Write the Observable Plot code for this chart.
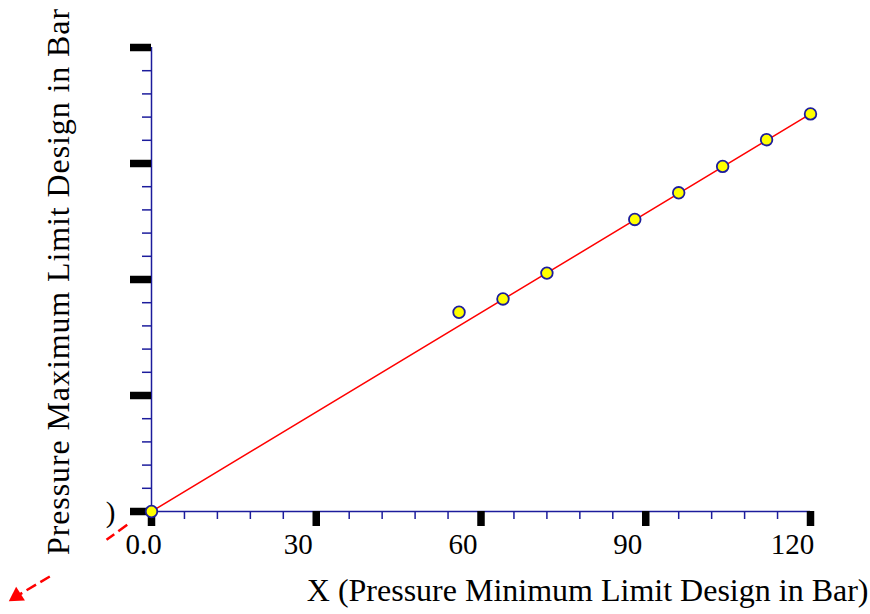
<!DOCTYPE html>
<html>
<head>
<meta charset="utf-8">
<script src="https://cdn.jsdelivr.net/npm/d3@7"></script>
<script src="https://cdn.jsdelivr.net/npm/@observablehq/plot@0.6"></script>
<style>
  html, body { margin: 0; padding: 0; background: #fff; }
  #chart svg { display: block; }
</style>
</head>
<body>
<div id="chart"></div>
<script>
// ---- data ----
const pointX = [0, 56, 64, 72, 88, 96, 104, 112, 120];
const pointY = [0, 68.7, 73.3, 82.2, 100.7, 109.9, 119.0, 128.2, 137.1];
const fitX = [0, 120];
const fitY = [0, 137.1];

const xMajorTicks = [0, 30, 60, 90, 120];
const xTickLabels = ["0.0", "30", "60", "90", "120"];
const xMinorTicks = [0, 6, 12, 18, 24, 30, 36, 42, 48, 54, 60, 66, 72, 78, 84, 90, 96, 102, 108, 114, 120];
const yMajorTicks = [0, 40, 80, 120, 160];
const yMinorTicks = [0, 8, 16, 24, 32, 40, 48, 56, 64, 72, 80, 88, 96, 104, 112, 120, 128, 136, 144, 152, 160];
const yTickLabels = [")"];

const xTitle = "X (Pressure Minimum Limit Design in Bar)";
const yTitle = "Pressure Maximum Limit Design in Bar";

// decorative dashed arrow (data units, outside the frame)
const arrowX1 = [-4.42, -18.52];
const arrowY1 = [-4.59, -22.41];
const arrowX2 = [-8.19, -24.3];
const arrowY2 = [-9.76, -28.9];
const arrowHeadX = [-24.56];
const arrowHeadY = [-29.2];

// ---- tables ----
const points = pointX.map((x, i) => ({x, y: pointY[i]}));
const fit = fitX.map((x, i) => ({x, y: fitY[i]}));
const xLabels = xMajorTicks.map((x, i) => ({x, label: xTickLabels[i]}));
const arrowSegs = arrowX1.map((x1, i) => ({x1, y1: arrowY1[i], x2: arrowX2[i], y2: arrowY2[i]}));
const arrowHead = arrowHeadX.map((x, i) => ({x, y: arrowHeadY[i]}));

const navy = "#1c1c9c";
const font = "'Liberation Serif', 'Times New Roman', serif";

const chart = Plot.plot({
  width: 870,
  height: 614,
  marginLeft: 151,
  marginRight: 60,
  marginTop: 47,
  marginBottom: 103,
  x: {domain: [0, 120]},
  y: {domain: [0, 160]},
  style: {fontFamily: font, background: "white", overflow: "visible", color: "black"},
  marks: [
    Plot.axisX(xMinorTicks, {tickSize: 8, stroke: navy, strokeWidth: 1.5, fill: "none", label: null}),
    Plot.axisY(yMinorTicks, {tickSize: 9, stroke: navy, strokeWidth: 1.5, fill: "none", label: null}),
    Plot.ruleY([0], {stroke: navy, strokeWidth: 1.5}),
    Plot.ruleX([0], {stroke: navy, strokeWidth: 1.5}),
    Plot.axisX(xMajorTicks, {tickSize: 15, stroke: "black", strokeWidth: 7.5, fill: "none", label: null}),
    Plot.axisY(yMajorTicks, {tickSize: 21, stroke: "black", strokeWidth: 7.5, fill: "none", label: null}),
    Plot.line(fit, {x: "x", y: "y", stroke: "#ff0000", strokeWidth: 1.5}),
    Plot.dot(points, {x: "x", y: "y", r: 5.8, fill: "#ffff00", stroke: navy, strokeWidth: 1.8}),
    // tick labels
    Plot.text(xLabels.slice(0, 1), {x: "x", y: 0, text: "label", dx: -8, dy: 42, textAnchor: "middle", lineAnchor: "bottom", fontSize: 29, fill: "black"}),
    Plot.text(xLabels.slice(1), {x: "x", y: 0, text: "label", dx: -18, dy: 42, textAnchor: "middle", lineAnchor: "bottom", fontSize: 29, fill: "black"}),
    Plot.text(yTickLabels, {x: 0, y: 0, text: d => d, dx: -36, dy: 10, textAnchor: "end", lineAnchor: "bottom", fontSize: 29, fill: "black"}),
    // titles
    Plot.text([xTitle], {frameAnchor: "bottom-right", text: d => d, dx: 58, dy: 89, textAnchor: "end", lineAnchor: "bottom", fontSize: 32, fill: "black"}),
    Plot.text([yTitle], {frameAnchor: "left", text: d => d, rotate: -90, dx: -82.7, dy: 2, textAnchor: "middle", lineAnchor: "bottom", fontSize: 32, fill: "black"}),
    // red dashed arrow
    Plot.link(arrowSegs, {x1: "x1", y1: "y1", x2: "x2", y2: "y2", stroke: "#ff0000", strokeWidth: 2.5, strokeDasharray: "11,5"}),
    Plot.dot(arrowHead, {x: "x", y: "y", symbol: "triangle", r: 6, fill: "#ff0000", stroke: "none", rotate: 237})
  ]
});
// widen the rotated y title slightly, as in the reference
d3.select(chart).selectAll("text")
  .filter(function () { return this.textContent === yTitle; })
  .attr("letter-spacing", "0.9px");
document.getElementById("chart").appendChild(chart);
</script>
</body>
</html>
